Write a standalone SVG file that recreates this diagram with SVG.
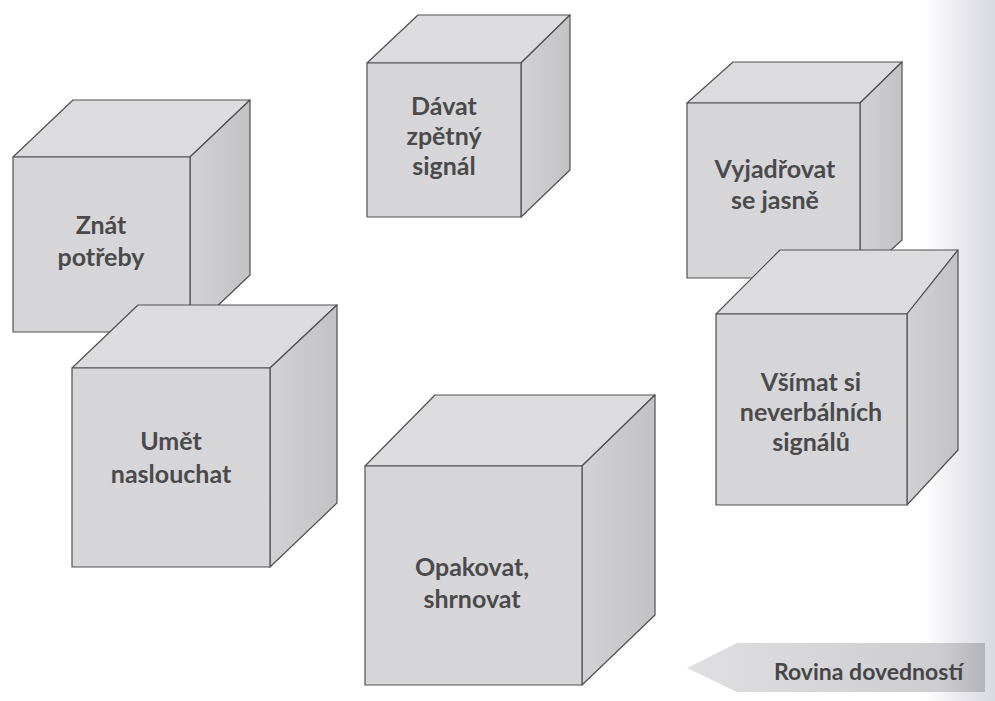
<svg xmlns="http://www.w3.org/2000/svg" width="995" height="701" viewBox="0 0 995 701">
<defs>
<linearGradient id="strip" x1="0" y1="0" x2="1" y2="0">
<stop offset="0" stop-color="#ffffff"/>
<stop offset="0.5" stop-color="#e9e9ee"/>
<stop offset="1" stop-color="#d8d8e0"/>
</linearGradient>
<linearGradient id="side" x1="0" y1="0" x2="1" y2="0">
<stop offset="0" stop-color="#d2d2d4"/>
<stop offset="1" stop-color="#c2c2c5"/>
</linearGradient>
<linearGradient id="arrowg" x1="0" y1="0" x2="1" y2="0">
<stop offset="0" stop-color="#e0e0e2"/>
<stop offset="0.85" stop-color="#cdcdd0"/>
<stop offset="1" stop-color="#b4b4b8"/>
</linearGradient>
</defs>
<style>
.front{fill:#d6d6d8;stroke:#505050;stroke-width:1.2;stroke-linejoin:round}
.top{fill:#dcdcde;stroke:#505050;stroke-width:1.2;stroke-linejoin:round}
.right{fill:url(#side);stroke:#505050;stroke-width:1.2;stroke-linejoin:round}
.lbl{font-family:Lato,"Open Sans","DejaVu Sans",sans-serif;font-weight:700;font-size:25px;fill:#4a4a4c;text-anchor:middle}
.arr{font-family:Lato,"Open Sans","DejaVu Sans",sans-serif;font-weight:700;font-size:23px;fill:#464648}
</style>
<rect x="0" y="0" width="995" height="701" fill="#ffffff"/>
<rect x="925" y="0" width="70" height="701" fill="url(#strip)"/>

<g id="cube-znat">
<polygon class="top" points="13,157 73,100 250,100 190,157"/>
<polygon class="right" points="190,157 250,100 250,275 190,332"/>
<rect class="front" x="13" y="157" width="177" height="175"/>
<text class="lbl" x="101" y="234">Znát</text>
<text class="lbl" x="101" y="266">potřeby</text>
</g>

<g id="cube-umet">
<polygon class="top" points="72,368 138,305 337,305 270,368"/>
<polygon class="right" points="270,368 337,305 337,503 270,567"/>
<rect class="front" x="72" y="368" width="198" height="199"/>
<text class="lbl" x="171" y="450">Umět</text>
<text class="lbl" x="171" y="483">naslouchat</text>
</g>

<g id="cube-davat">
<polygon class="top" points="367,63 418,15 570,15 521,63"/>
<polygon class="right" points="521,63 570,15 570,170 521,217"/>
<rect class="front" x="367" y="63" width="154" height="154"/>
<text class="lbl" x="444" y="115">Dávat</text>
<text class="lbl" x="444" y="145">zpětný</text>
<text class="lbl" x="444" y="175">signál</text>
</g>

<g id="cube-vyjadrovat">
<polygon class="top" points="687,103 733,62 902,62 860,103"/>
<polygon class="right" points="860,103 902,62 902,240 860,278"/>
<rect class="front" x="687" y="103" width="173" height="175"/>
<text class="lbl" x="775" y="178">Vyjadřovat</text>
<text class="lbl" x="775" y="209">se jasně</text>
</g>

<g id="cube-vsimat">
<polygon class="top" points="716,314 780,250 958,250 907,314"/>
<polygon class="right" points="907,314 958,250 958,450 907,505"/>
<rect class="front" x="716" y="314" width="191" height="191"/>
<text class="lbl" x="811" y="391">Všímat si</text>
<text class="lbl" x="811" y="421">neverbálních</text>
<text class="lbl" x="811" y="451">signálů</text>
</g>

<g id="cube-opakovat">
<polygon class="top" points="365,466 435,395 655,395 582,466"/>
<polygon class="right" points="582,466 655,395 655,615 582,685"/>
<rect class="front" x="365" y="466" width="217" height="219"/>
<text class="lbl" x="472" y="576">Opakovat,</text>
<text class="lbl" x="472" y="608">shrnovat</text>
</g>

<g id="connectors"></g>

<g id="rovina">
<polygon points="687,668 737,643 985,643 985,692 737,692" fill="url(#arrowg)"/>
<text class="arr" x="774" y="680">Rovina dovedností</text>
</g>
</svg>
